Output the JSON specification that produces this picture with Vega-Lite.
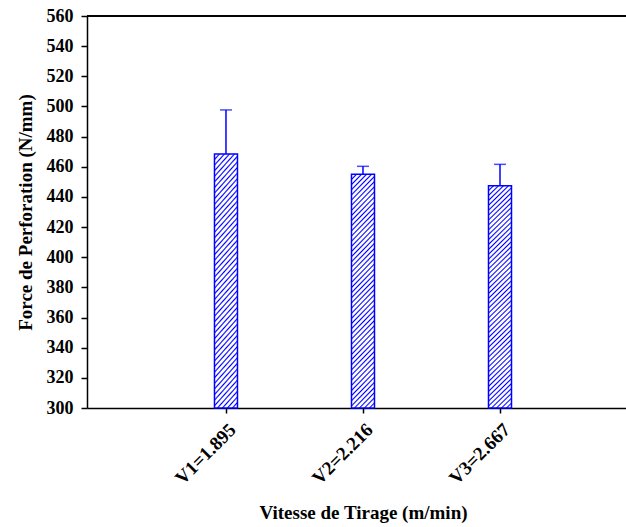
{
  "$schema": "https://vega.github.io/schema/vega-lite/v6.json",
  "width": 539,
  "height": 392,
  "autosize": {"type": "none"},
  "padding": {"left": 87, "top": 16, "right": 0, "bottom": 119},
  "background": "white",
  "config": {
    "view": {"stroke": null},
    "font": "Liberation Serif",
    "axisY": {
      "tickCount": 14,
      "labelOverlap": false,
      "labelBound": false,
      "labelFlush": false,
      "grid": false,
      "labelFont": "Liberation Serif",
      "labelFontSize": 18,
      "labelFontWeight": "bold",
      "labelColor": "black",
      "labelPadding": 8,
      "tickSize": 6,
      "tickWidth": 1.5,
      "tickColor": "black",
      "domainColor": "black",
      "domainWidth": 1.5,
      "titleFont": "Liberation Serif",
      "titleFontSize": 19,
      "titleFontWeight": "bold",
      "titleColor": "black",
      "titleAngle": 270,
      "titleX": -56,
      "titleY": 196,
      "titleBaseline": "alphabetic",
      "titleAlign": "center"
    },
    "axisX": {
      "labelAngle": -45,
      "labelFont": "Liberation Serif",
      "labelFontSize": 19,
      "labelFontWeight": "bold",
      "labelColor": "black",
      "labelPadding": 7,
      "labelOverlap": false,
      "tickSize": 5,
      "tickWidth": 1.5,
      "tickColor": "black",
      "domainColor": "black",
      "domainWidth": 1.5,
      "grid": false,
      "titleFont": "Liberation Serif",
      "titleFontSize": 19,
      "titleFontWeight": "bold",
      "titleColor": "black",
      "titleX": 276,
      "titleY": 110,
      "titleBaseline": "alphabetic",
      "titleAlign": "center"
    }
  },
  "data": {
    "values": [
      {"vitesse": "V1=1.895", "force": 468.5, "upper": 497.7},
      {"vitesse": "V2=2.216", "force": 455.0, "upper": 460.3},
      {"vitesse": "V3=2.667", "force": 447.4, "upper": 461.6}
    ]
  },
  "layer": [
    {
      "mark": {
        "type": "bar",
        "width": 23,
        "stroke": "#0000ff",
        "strokeWidth": 1.5,
        "fill": {
          "gradient": "linear",
          "x1": 0, "y1": 0, "x2": 0.1104, "y2": 1.0901,
          "stops": [
            {"offset":0,"color":"blue"},{"offset":0.006,"color":"white"},{"offset":0.014,"color":"white"},
            {"offset":0.02,"color":"blue"},{"offset":0.026,"color":"white"},{"offset":0.034,"color":"white"},
            {"offset":0.04,"color":"blue"},{"offset":0.046,"color":"white"},{"offset":0.054,"color":"white"},
            {"offset":0.06,"color":"blue"},{"offset":0.066,"color":"white"},{"offset":0.074,"color":"white"},
            {"offset":0.08,"color":"blue"},{"offset":0.086,"color":"white"},{"offset":0.094,"color":"white"},
            {"offset":0.10,"color":"blue"},{"offset":0.106,"color":"white"},{"offset":0.114,"color":"white"},
            {"offset":0.12,"color":"blue"},{"offset":0.126,"color":"white"},{"offset":0.134,"color":"white"},
            {"offset":0.14,"color":"blue"},{"offset":0.146,"color":"white"},{"offset":0.154,"color":"white"},
            {"offset":0.16,"color":"blue"},{"offset":0.166,"color":"white"},{"offset":0.174,"color":"white"},
            {"offset":0.18,"color":"blue"},{"offset":0.186,"color":"white"},{"offset":0.194,"color":"white"},
            {"offset":0.20,"color":"blue"},{"offset":0.206,"color":"white"},{"offset":0.214,"color":"white"},
            {"offset":0.22,"color":"blue"},{"offset":0.226,"color":"white"},{"offset":0.234,"color":"white"},
            {"offset":0.24,"color":"blue"},{"offset":0.246,"color":"white"},{"offset":0.254,"color":"white"},
            {"offset":0.26,"color":"blue"},{"offset":0.266,"color":"white"},{"offset":0.274,"color":"white"},
            {"offset":0.28,"color":"blue"},{"offset":0.286,"color":"white"},{"offset":0.294,"color":"white"},
            {"offset":0.30,"color":"blue"},{"offset":0.306,"color":"white"},{"offset":0.314,"color":"white"},
            {"offset":0.32,"color":"blue"},{"offset":0.326,"color":"white"},{"offset":0.334,"color":"white"},
            {"offset":0.34,"color":"blue"},{"offset":0.346,"color":"white"},{"offset":0.354,"color":"white"},
            {"offset":0.36,"color":"blue"},{"offset":0.366,"color":"white"},{"offset":0.374,"color":"white"},
            {"offset":0.38,"color":"blue"},{"offset":0.386,"color":"white"},{"offset":0.394,"color":"white"},
            {"offset":0.40,"color":"blue"},{"offset":0.406,"color":"white"},{"offset":0.414,"color":"white"},
            {"offset":0.42,"color":"blue"},{"offset":0.426,"color":"white"},{"offset":0.434,"color":"white"},
            {"offset":0.44,"color":"blue"},{"offset":0.446,"color":"white"},{"offset":0.454,"color":"white"},
            {"offset":0.46,"color":"blue"},{"offset":0.466,"color":"white"},{"offset":0.474,"color":"white"},
            {"offset":0.48,"color":"blue"},{"offset":0.486,"color":"white"},{"offset":0.494,"color":"white"},
            {"offset":0.50,"color":"blue"},{"offset":0.506,"color":"white"},{"offset":0.514,"color":"white"},
            {"offset":0.52,"color":"blue"},{"offset":0.526,"color":"white"},{"offset":0.534,"color":"white"},
            {"offset":0.54,"color":"blue"},{"offset":0.546,"color":"white"},{"offset":0.554,"color":"white"},
            {"offset":0.56,"color":"blue"},{"offset":0.566,"color":"white"},{"offset":0.574,"color":"white"},
            {"offset":0.58,"color":"blue"},{"offset":0.586,"color":"white"},{"offset":0.594,"color":"white"},
            {"offset":0.60,"color":"blue"},{"offset":0.606,"color":"white"},{"offset":0.614,"color":"white"},
            {"offset":0.62,"color":"blue"},{"offset":0.626,"color":"white"},{"offset":0.634,"color":"white"},
            {"offset":0.64,"color":"blue"},{"offset":0.646,"color":"white"},{"offset":0.654,"color":"white"},
            {"offset":0.66,"color":"blue"},{"offset":0.666,"color":"white"},{"offset":0.674,"color":"white"},
            {"offset":0.68,"color":"blue"},{"offset":0.686,"color":"white"},{"offset":0.694,"color":"white"},
            {"offset":0.70,"color":"blue"},{"offset":0.706,"color":"white"},{"offset":0.714,"color":"white"},
            {"offset":0.72,"color":"blue"},{"offset":0.726,"color":"white"},{"offset":0.734,"color":"white"},
            {"offset":0.74,"color":"blue"},{"offset":0.746,"color":"white"},{"offset":0.754,"color":"white"},
            {"offset":0.76,"color":"blue"},{"offset":0.766,"color":"white"},{"offset":0.774,"color":"white"},
            {"offset":0.78,"color":"blue"},{"offset":0.786,"color":"white"},{"offset":0.794,"color":"white"},
            {"offset":0.80,"color":"blue"},{"offset":0.806,"color":"white"},{"offset":0.814,"color":"white"},
            {"offset":0.82,"color":"blue"},{"offset":0.826,"color":"white"},{"offset":0.834,"color":"white"},
            {"offset":0.84,"color":"blue"},{"offset":0.846,"color":"white"},{"offset":0.854,"color":"white"},
            {"offset":0.86,"color":"blue"},{"offset":0.866,"color":"white"},{"offset":0.874,"color":"white"},
            {"offset":0.88,"color":"blue"},{"offset":0.886,"color":"white"},{"offset":0.894,"color":"white"},
            {"offset":0.90,"color":"blue"},{"offset":0.906,"color":"white"},{"offset":0.914,"color":"white"},
            {"offset":0.92,"color":"blue"},{"offset":0.926,"color":"white"},{"offset":0.934,"color":"white"},
            {"offset":0.94,"color":"blue"},{"offset":0.946,"color":"white"},{"offset":0.954,"color":"white"},
            {"offset":0.96,"color":"blue"},{"offset":0.966,"color":"white"},{"offset":0.974,"color":"white"},
            {"offset":0.98,"color":"blue"},{"offset":0.986,"color":"white"},{"offset":0.994,"color":"white"},
            {"offset":1,"color":"blue"}
          ]
        }
      },
      "encoding": {
        "x": {
          "field": "vitesse",
          "type": "nominal",
          "sort": null,
          "scale": {"type": "point", "padding": 0.967, "align": 0.5245},
          "axis": {"title": "Vitesse de Tirage (m/min)"}
        },
        "y": {
          "field": "force",
          "type": "quantitative",
          "scale": {"domain": [300, 560], "zero": false, "nice": false},
          "axis": {
            "title": "Force de Perforation  (N/mm)",
            "values": [300, 320, 340, 360, 380, 400, 420, 440, 460, 480, 500, 520, 540, 560]
          }
        },
        "y2": {"datum": 300}
      }
    },
    {
      "mark": {"type": "rule", "color": "#0000ff", "strokeWidth": 1.5},
      "encoding": {
        "x": {"field": "vitesse", "type": "nominal", "sort": null},
        "y": {
          "field": "force",
          "type": "quantitative",
          "axis": {
            "title": "Force de Perforation  (N/mm)",
            "values": [300, 320, 340, 360, 380, 400, 420, 440, 460, 480, 500, 520, 540, 560]
          }
        },
        "y2": {"field": "upper"}
      }
    },
    {
      "mark": {"type": "tick", "color": "#0000ff", "size": 12, "thickness": 1.5},
      "encoding": {
        "x": {"field": "vitesse", "type": "nominal", "sort": null},
        "y": {
          "field": "upper",
          "type": "quantitative",
          "axis": {
            "title": "Force de Perforation  (N/mm)",
            "values": [300, 320, 340, 360, 380, 400, 420, 440, 460, 480, 500, 520, 540, 560]
          }
        }
      }
    },
    {
      "mark": {"type": "rule", "color": "black", "strokeWidth": 1.5},
      "encoding": {
        "y": {
          "datum": 560,
          "axis": {
            "title": "Force de Perforation  (N/mm)",
            "values": [300, 320, 340, 360, 380, 400, 420, 440, 460, 480, 500, 520, 540, 560]
          }
        }
      }
    }
  ]
}
